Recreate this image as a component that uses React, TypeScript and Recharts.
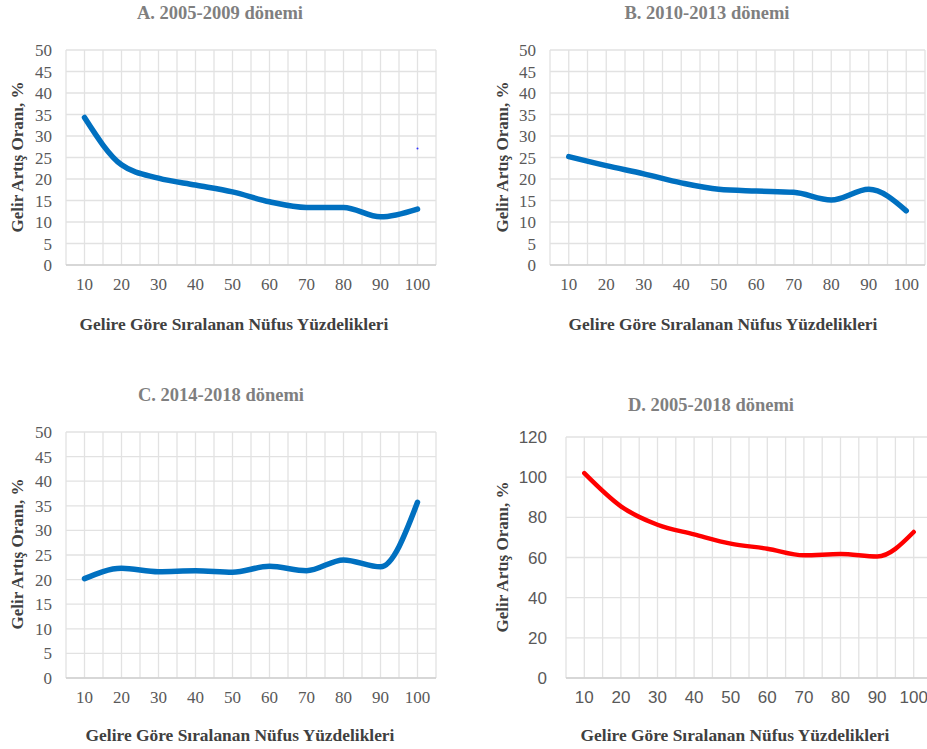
import React from "react";
import {
  LineChart,
  Line,
  XAxis,
  YAxis,
  CartesianGrid,
  Scatter,
} from "recharts";

const percentiles = [10, 20, 30, 40, 50, 60, 70, 80, 90, 100];

const period2005_2009 = [34.3, 23.3, 20.2, 18.6, 17.0, 14.7, 13.4, 13.4, 11.2, 13.0];
const period2010_2013 = [25.2, 23.1, 21.2, 19.1, 17.6, 17.2, 16.9, 15.1, 17.6, 12.6];
const period2014_2018 = [20.2, 22.3, 21.6, 21.8, 21.5, 22.7, 21.8, 24.0, 22.6, 35.7];
const period2005_2018 = [102, 85.5, 76.3, 71.5, 66.9, 64.4, 61.1, 61.7, 60.5, 72.7];

// small stray mark visible in panel A
const strayDot = [{ p: 100, v: 27.1 }];

const gridX = [5, 10, 15, 20, 25, 30, 35, 40, 45, 50, 55, 60, 65, 70, 75, 80, 85, 90, 95, 100, 105];
const ticks50 = [0, 5, 10, 15, 20, 25, 30, 35, 40, 45, 50];
const ticks120 = [0, 20, 40, 60, 80, 100, 120];

const yTitle = "Gelir Artış Oranı, %";
const xTitle = "Gelire Göre Sıralanan Nüfus Yüzdelikleri";

const serif = "'Liberation Serif', 'Times New Roman', serif";
const sans = "'Liberation Sans', Arial, sans-serif";

type PanelProps = {
  left: number;
  top: number;
  width: number;
  height: number;
  margin: { top: number; right: number; bottom: number; left: number };
  yWidth: number;
  yTickMargin: number;
  values: number[];
  yMax: number;
  yTicks: number[];
  color: string;
  strokeWidth: number;
  tickFont: string;
  tickSize: number;
  title: string;
  titleX: number;
  titleY: number;
  xTitleX: number;
  xTitleY: number;
  yTitleX: number;
  yTitleY: number;
  dots?: { p: number; v: number }[];
};

function Panel(props: PanelProps) {
  const data = percentiles.map((p, i) => ({ p, v: props.values[i] }));
  const tickStyle = {
    fontFamily: props.tickFont,
    fontSize: props.tickSize,
    fill: "#595959",
  };
  return (
    <>
      <div style={{ position: "absolute", left: props.left, top: props.top }}>
        <LineChart
          width={props.width}
          height={props.height}
          data={data}
          margin={props.margin}
        >
          <CartesianGrid stroke="#e2e2e2" strokeWidth={1.3} />
          <XAxis
            dataKey="p"
            type="number"
            domain={[5, 105]}
            ticks={gridX}
            interval={0}
            tickFormatter={(t: number) =>
              t % 10 === 0 && t >= 10 && t <= 100 ? String(t) : ""
            }
            tickLine={false}
            tickMargin={7}
            height={30}
            stroke="#d0d0d0"
            strokeWidth={1.5}
            tick={tickStyle}
          />
          <YAxis
            type="number"
            domain={[0, props.yMax]}
            ticks={props.yTicks}
            interval={0}
            axisLine={false}
            tickLine={false}
            tickMargin={props.yTickMargin}
            width={props.yWidth}
            tick={tickStyle}
          />
          <Line
            type="monotone"
            dataKey="v"
            stroke={props.color}
            strokeWidth={props.strokeWidth}
            strokeLinecap="round"
            dot={false}
            activeDot={false}
            isAnimationActive={false}
          />
          {props.dots && (
            <Scatter
              data={props.dots}
              dataKey="v"
              fill="#3333ff"
              shape={(s: any) => <circle cx={s.cx} cy={s.cy} r={1} fill="#3333ff" />}
              isAnimationActive={false}
            />
          )}
        </LineChart>
      </div>
      <div
        style={{
          position: "absolute",
          left: props.titleX - 150,
          top: props.titleY - 11,
          width: 300,
          textAlign: "center",
          fontFamily: serif,
          fontWeight: "bold",
          fontSize: 18.5,
          lineHeight: "22px",
          color: "#7f7f7f",
        }}
      >
        {props.title}
      </div>
      <div
        style={{
          position: "absolute",
          left: props.xTitleX - 200,
          top: props.xTitleY - 11,
          width: 400,
          textAlign: "center",
          fontFamily: serif,
          fontWeight: "bold",
          fontSize: 17.4,
          lineHeight: "22px",
          color: "#404040",
        }}
      >
        {xTitle}
      </div>
      <div
        style={{
          position: "absolute",
          left: props.yTitleX - 100,
          top: props.yTitleY - 11,
          width: 200,
          textAlign: "center",
          fontFamily: serif,
          fontWeight: "bold",
          fontSize: 17,
          lineHeight: "22px",
          color: "#404040",
          transform: "rotate(-90deg)",
        }}
      >
        {yTitle}
      </div>
    </>
  );
}

export default function App() {
  return (
    <div
      style={{
        position: "absolute",
        left: 0,
        top: 0,
        width: 927,
        height: 749,
        overflow: "hidden",
        background: "#ffffff",
      }}
    >
      <Panel
        left={0}
        top={0}
        width={460}
        height={340}
        margin={{ top: 50, right: 24, bottom: 45, left: 0 }}
        yWidth={66}
        yTickMargin={8}
        values={period2005_2009}
        yMax={50}
        yTicks={ticks50}
        color="#0070c0"
        strokeWidth={5.5}
        tickFont={serif}
        tickSize={17}
        title="A. 2005-2009 dönemi"
        titleX={220}
        titleY={13}
        xTitleX={234}
        xTitleY={324}
        yTitleX={18}
        yTitleY={157}
        dots={strayDot}
      />
      <Panel
        left={460}
        top={0}
        width={467}
        height={340}
        margin={{ top: 50, right: 2, bottom: 45, left: 0 }}
        yWidth={90}
        yTickMargin={8}
        values={period2010_2013}
        yMax={50}
        yTicks={ticks50}
        color="#0070c0"
        strokeWidth={5.5}
        tickFont={serif}
        tickSize={17}
        title="B. 2010-2013 dönemi"
        titleX={707}
        titleY={13}
        xTitleX={723}
        xTitleY={324}
        yTitleX={503}
        yTitleY={157}
      />
      <Panel
        left={0}
        top={380}
        width={460}
        height={369}
        margin={{ top: 52, right: 24, bottom: 41, left: 0 }}
        yWidth={66}
        yTickMargin={8}
        values={period2014_2018}
        yMax={50}
        yTicks={ticks50}
        color="#0070c0"
        strokeWidth={5.5}
        tickFont={serif}
        tickSize={17}
        title="C. 2014-2018 dönemi"
        titleX={221}
        titleY={395}
        xTitleX={240}
        xTitleY={735}
        yTitleX={18}
        yTitleY={554}
      />
      <Panel
        left={460}
        top={380}
        width={472}
        height={369}
        margin={{ top: 57, right: 0, bottom: 41, left: 0 }}
        yWidth={106}
        yTickMargin={13}
        values={period2005_2018}
        yMax={120}
        yTicks={ticks120}
        color="#ff0000"
        strokeWidth={4.5}
        tickFont={sans}
        tickSize={17}
        title="D. 2005-2018 dönemi"
        titleX={711}
        titleY={405}
        xTitleX={735}
        xTitleY={735}
        yTitleX={503}
        yTitleY={557}
      />
    </div>
  );
}
